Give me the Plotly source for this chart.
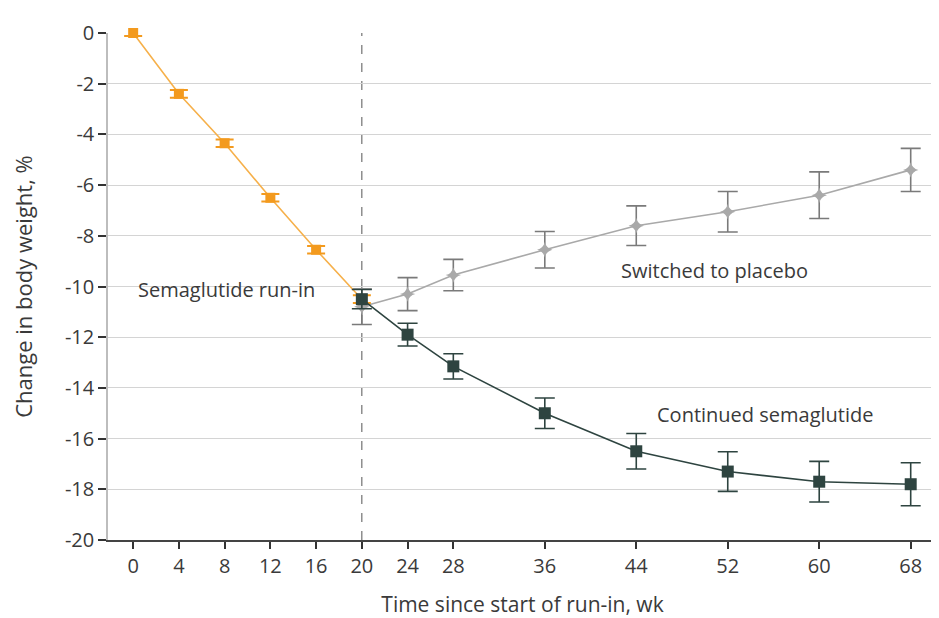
import plotly.graph_objects as go

# Data
runin_weeks = [0, 4, 8, 12, 16, 20]
runin_change = [0.0, -2.4, -4.35, -6.5, -8.55, -10.5]
runin_err = [0.12, 0.15, 0.15, 0.15, 0.15, 0.15]

placebo_weeks = [20, 24, 28, 36, 44, 52, 60, 68]
placebo_change = [-10.8, -10.3, -9.55, -8.55, -7.6, -7.05, -6.4, -5.4]
placebo_err = [0.7, 0.65, 0.62, 0.72, 0.78, 0.8, 0.92, 0.85]

cont_weeks = [20, 24, 28, 36, 44, 52, 60, 68]
cont_change = [-10.5, -11.9, -13.15, -15.0, -16.5, -17.3, -17.7, -17.8]
cont_err = [0.38, 0.45, 0.5, 0.6, 0.7, 0.78, 0.8, 0.85]

x_ticks = [0, 4, 8, 12, 16, 20, 24, 28, 36, 44, 52, 60, 68]
y_ticks = list(range(-20, 1, 2))

FONT = "Open Sans"
TXT = "#3a3a3a"

fig = go.Figure()

fig.add_trace(go.Scatter(
    x=placebo_weeks, y=placebo_change, mode="lines+markers",
    line=dict(color="#a9a9a9", width=1.6),
    marker=dict(symbol="star-diamond", size=11, color="#a9a9a9"),
    error_y=dict(type="data", array=placebo_err, color="#7a7a7a", thickness=1.6, width=10),
    cliponaxis=False, showlegend=False,
))

fig.add_trace(go.Scatter(
    x=runin_weeks, y=runin_change, mode="lines+markers",
    line=dict(color="#f6b04a", width=1.6),
    marker=dict(symbol="square", size=10, color="#f39a1e"),
    error_y=dict(type="data", array=runin_err, color="#f39a1e", thickness=2, width=9),
    cliponaxis=False, showlegend=False,
))

fig.add_trace(go.Scatter(
    x=cont_weeks, y=cont_change, mode="lines+markers",
    line=dict(color="#2e4440", width=1.6),
    marker=dict(symbol="square", size=12, color="#2e4440"),
    error_y=dict(type="data", array=cont_err, color="#2e4440", thickness=1.6, width=10),
    cliponaxis=False, showlegend=False,
))

fig.add_shape(type="line", x0=20, x1=20, y0=0, y1=1, xref="x", yref="paper",
              line=dict(color="#555555", width=1, dash="dash"), layer="below")

ann_font = dict(family=FONT, size=20, color=TXT)
fig.add_annotation(x=8.2, y=-10.1, text="Semaglutide run-in", showarrow=False, font=ann_font)
fig.add_annotation(x=50.8, y=-9.35, text="Switched to placebo", showarrow=False, font=ann_font)
fig.add_annotation(x=55.3, y=-15.05, text="Continued semaglutide", showarrow=False, font=ann_font)

fig.update_layout(
    width=931, height=610,
    margin=dict(l=100, r=2, t=25, b=78),
    paper_bgcolor="white", plot_bgcolor="white",
    font=dict(family=FONT, size=20, color=TXT),
)

fig.update_xaxes(
    range=[-2.2, 70.3], tickvals=x_ticks, ticktext=[str(v) for v in x_ticks],
    showgrid=False, zeroline=False, showline=True, linecolor="#444444", linewidth=1.5,
    ticks="outside", ticklen=7, tickwidth=2, tickcolor="#333333",
    tickfont=dict(family=FONT, size=20, color=TXT),
    title=dict(text="Time since start of run-in, wk", font=dict(family=FONT, size=21, color=TXT), standoff=20),
    automargin=False,
)
fig.update_yaxes(
    range=[-20, 0], tickvals=y_ticks, ticktext=[str(v) for v in y_ticks],
    showgrid=True, gridcolor="#d4d4d4", gridwidth=1.2, zeroline=False,
    showline=True, linecolor="#bdbdbd", linewidth=1.5,
    ticks="outside", ticklen=8, tickwidth=2, tickcolor="#333333",
    tickfont=dict(family=FONT, size=20, color=TXT),
    title=dict(text="Change in body weight, %", font=dict(family=FONT, size=22, color=TXT), standoff=26),
    automargin=False,
)

# light right border
fig.add_shape(type="line", x0=1, x1=1, y0=0, y1=1, xref="paper", yref="paper",
              line=dict(color="#dddddd", width=1.2))

fig.write_html("out.html")
